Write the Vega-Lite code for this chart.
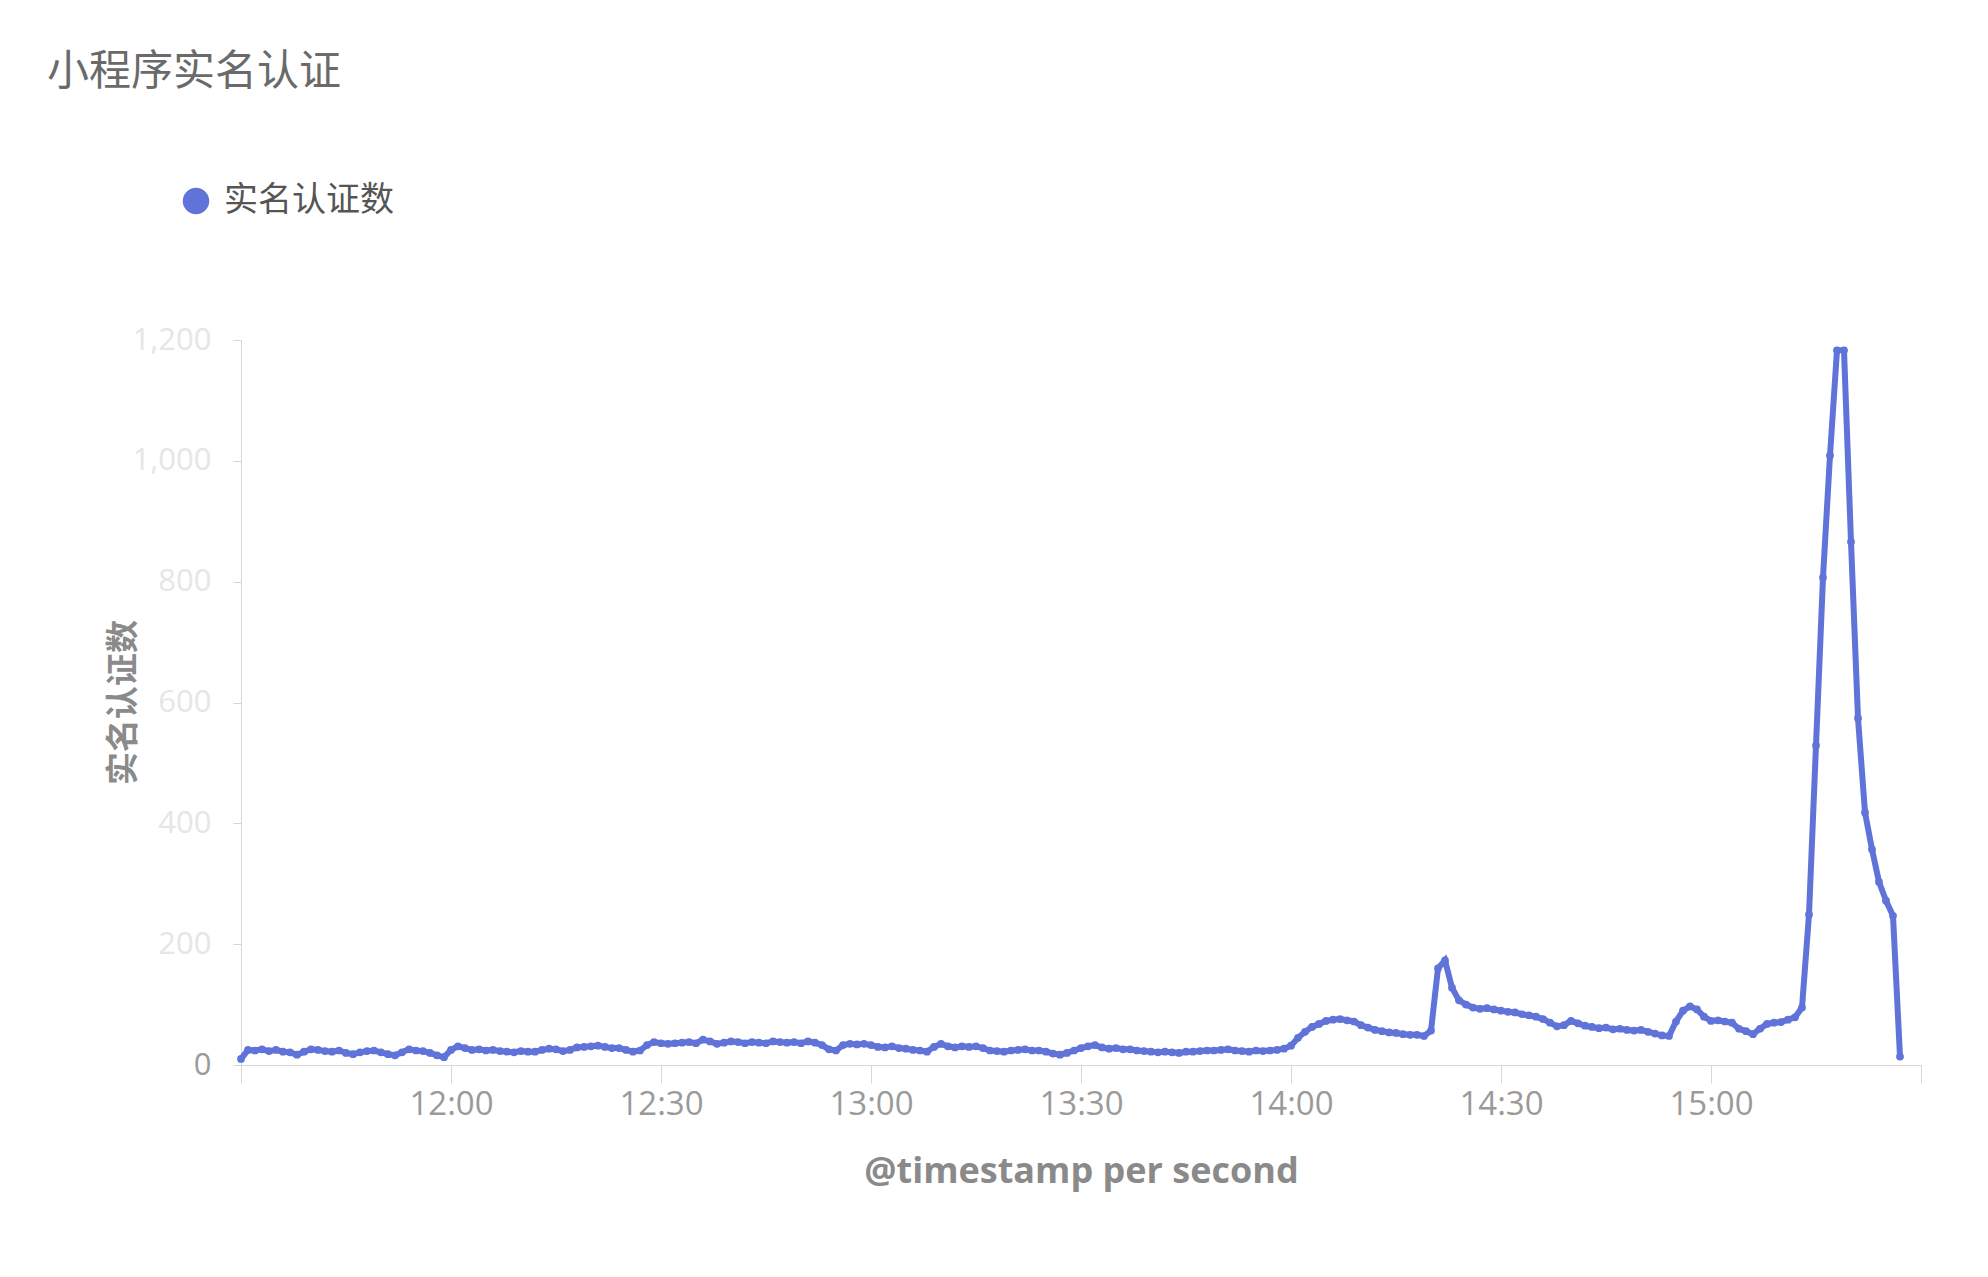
{
  "$schema": "https://vega.github.io/schema/vega-lite/v6.json",
  "width": 1680,
  "height": 725,
  "autosize": {"type": "none"},
  "padding": {"left": 241, "top": 340, "right": 67, "bottom": 212},
  "background": "white",
  "title": {
    "text": "小程序实名认证",
    "anchor": "start",
    "frame": "group",
    "dx": -194,
    "offset": 90,
    "fontSize": 42,
    "fontWeight": "normal",
    "color": "#6a6a6a",
    "font": "Noto Sans CJK SC"
  },
  "data": {
    "format": {"parse": {"t": "date:'%H:%M'"}},
    "values": [
      {"t":"11:30","v":10},{"t":"11:31","v":25},{"t":"11:32","v":24},{"t":"11:33","v":26},{"t":"11:34","v":23},{"t":"11:35","v":25},{"t":"11:36","v":22},{"t":"11:37","v":21},{"t":"11:38","v":17},{"t":"11:39","v":22},
      {"t":"11:40","v":26},{"t":"11:41","v":25},{"t":"11:42","v":23},{"t":"11:43","v":22},{"t":"11:44","v":24},{"t":"11:45","v":20},{"t":"11:46","v":18},{"t":"11:47","v":21},{"t":"11:48","v":23},{"t":"11:49","v":24},
      {"t":"11:50","v":21},{"t":"11:51","v":18},{"t":"11:52","v":16},{"t":"11:53","v":21},{"t":"11:54","v":26},{"t":"11:55","v":24},{"t":"11:56","v":23},{"t":"11:57","v":20},{"t":"11:58","v":16},{"t":"11:59","v":13},
      {"t":"12:00","v":25},{"t":"12:01","v":31},{"t":"12:02","v":28},{"t":"12:03","v":25},{"t":"12:04","v":26},{"t":"12:05","v":24},{"t":"12:06","v":25},{"t":"12:07","v":23},{"t":"12:08","v":22},{"t":"12:09","v":21},
      {"t":"12:10","v":23},{"t":"12:11","v":22},{"t":"12:12","v":22},{"t":"12:13","v":25},{"t":"12:14","v":27},{"t":"12:15","v":26},{"t":"12:16","v":23},{"t":"12:17","v":25},{"t":"12:18","v":29},{"t":"12:19","v":30},
      {"t":"12:20","v":31},{"t":"12:21","v":32},{"t":"12:22","v":30},{"t":"12:23","v":28},{"t":"12:24","v":28},{"t":"12:25","v":25},{"t":"12:26","v":22},{"t":"12:27","v":24},{"t":"12:28","v":33},{"t":"12:29","v":38},
      {"t":"12:30","v":36},{"t":"12:31","v":35},{"t":"12:32","v":36},{"t":"12:33","v":37},{"t":"12:34","v":38},{"t":"12:35","v":36},{"t":"12:36","v":42},{"t":"12:37","v":39},{"t":"12:38","v":35},{"t":"12:39","v":37},
      {"t":"12:40","v":39},{"t":"12:41","v":38},{"t":"12:42","v":36},{"t":"12:43","v":38},{"t":"12:44","v":37},{"t":"12:45","v":36},{"t":"12:46","v":39},{"t":"12:47","v":38},{"t":"12:48","v":37},{"t":"12:49","v":38},
      {"t":"12:50","v":36},{"t":"12:51","v":39},{"t":"12:52","v":37},{"t":"12:53","v":33},{"t":"12:54","v":26},{"t":"12:55","v":24},{"t":"12:56","v":33},{"t":"12:57","v":35},{"t":"12:58","v":34},{"t":"12:59","v":35},
      {"t":"13:00","v":33},{"t":"13:01","v":30},{"t":"13:02","v":29},{"t":"13:03","v":31},{"t":"13:04","v":28},{"t":"13:05","v":27},{"t":"13:06","v":25},{"t":"13:07","v":24},{"t":"13:08","v":22},{"t":"13:09","v":30},
      {"t":"13:10","v":35},{"t":"13:11","v":31},{"t":"13:12","v":29},{"t":"13:13","v":31},{"t":"13:14","v":30},{"t":"13:15","v":31},{"t":"13:16","v":28},{"t":"13:17","v":24},{"t":"13:18","v":23},{"t":"13:19","v":22},
      {"t":"13:20","v":24},{"t":"13:21","v":25},{"t":"13:22","v":26},{"t":"13:23","v":24},{"t":"13:24","v":24},{"t":"13:25","v":22},{"t":"13:26","v":19},{"t":"13:27","v":17},{"t":"13:28","v":20},{"t":"13:29","v":24},
      {"t":"13:30","v":28},{"t":"13:31","v":31},{"t":"13:32","v":33},{"t":"13:33","v":29},{"t":"13:34","v":27},{"t":"13:35","v":28},{"t":"13:36","v":26},{"t":"13:37","v":26},{"t":"13:38","v":24},{"t":"13:39","v":23},
      {"t":"13:40","v":22},{"t":"13:41","v":21},{"t":"13:42","v":22},{"t":"13:43","v":21},{"t":"13:44","v":20},{"t":"13:45","v":22},{"t":"13:46","v":22},{"t":"13:47","v":23},{"t":"13:48","v":24},{"t":"13:49","v":24},
      {"t":"13:50","v":25},{"t":"13:51","v":26},{"t":"13:52","v":24},{"t":"13:53","v":23},{"t":"13:54","v":22},{"t":"13:55","v":24},{"t":"13:56","v":23},{"t":"13:57","v":24},{"t":"13:58","v":25},{"t":"13:59","v":27},
      {"t":"14:00","v":32},{"t":"14:01","v":45},{"t":"14:02","v":55},{"t":"14:03","v":63},{"t":"14:04","v":68},{"t":"14:05","v":73},{"t":"14:06","v":75},{"t":"14:07","v":76},{"t":"14:08","v":74},{"t":"14:09","v":72},
      {"t":"14:10","v":66},{"t":"14:11","v":62},{"t":"14:12","v":58},{"t":"14:13","v":56},{"t":"14:14","v":54},{"t":"14:15","v":53},{"t":"14:16","v":51},{"t":"14:17","v":50},{"t":"14:18","v":50},{"t":"14:19","v":48},
      {"t":"14:20","v":57},{"t":"14:21","v":160},{"t":"14:22","v":173},{"t":"14:23","v":128},{"t":"14:24","v":107},{"t":"14:25","v":100},{"t":"14:26","v":95},{"t":"14:27","v":93},{"t":"14:28","v":94},{"t":"14:29","v":92},
      {"t":"14:30","v":90},{"t":"14:31","v":88},{"t":"14:32","v":87},{"t":"14:33","v":84},{"t":"14:34","v":82},{"t":"14:35","v":80},{"t":"14:36","v":76},{"t":"14:37","v":70},{"t":"14:38","v":64},{"t":"14:39","v":66},
      {"t":"14:40","v":73},{"t":"14:41","v":69},{"t":"14:42","v":65},{"t":"14:43","v":63},{"t":"14:44","v":61},{"t":"14:45","v":62},{"t":"14:46","v":59},{"t":"14:47","v":60},{"t":"14:48","v":58},{"t":"14:49","v":57},
      {"t":"14:50","v":58},{"t":"14:51","v":55},{"t":"14:52","v":52},{"t":"14:53","v":49},{"t":"14:54","v":48},{"t":"14:55","v":72},{"t":"14:56","v":90},{"t":"14:57","v":97},{"t":"14:58","v":92},{"t":"14:59","v":80},
      {"t":"15:00","v":73},{"t":"15:01","v":74},{"t":"15:02","v":72},{"t":"15:03","v":70},{"t":"15:04","v":60},{"t":"15:05","v":56},{"t":"15:06","v":51},{"t":"15:07","v":60},{"t":"15:08","v":68},{"t":"15:09","v":70},
      {"t":"15:10","v":71},{"t":"15:11","v":75},{"t":"15:12","v":79},{"t":"15:13","v":95},{"t":"15:14","v":249},{"t":"15:15","v":529},{"t":"15:16","v":807},{"t":"15:17","v":1009},{"t":"15:18","v":1183},{"t":"15:19","v":1183},
      {"t":"15:20","v":866},{"t":"15:21","v":574},{"t":"15:22","v":418},{"t":"15:23","v":357},{"t":"15:24","v":303},{"t":"15:25","v":272},{"t":"15:26","v":247},{"t":"15:27","v":14}
    ]
  },
  "encoding": {
    "x": {
      "field": "t",
      "type": "temporal",
      "scale": {
        "domain": [
          {"year": 1900, "month": 1, "date": 1, "hours": 11, "minutes": 30},
          {"year": 1900, "month": 1, "date": 1, "hours": 15, "minutes": 30}
        ]
      },
      "axis": {
        "title": "@timestamp per second",
        "values": [
          {"year": 1900, "month": 1, "date": 1, "hours": 11, "minutes": 30},
          {"year": 1900, "month": 1, "date": 1, "hours": 12, "minutes": 0},
          {"year": 1900, "month": 1, "date": 1, "hours": 12, "minutes": 30},
          {"year": 1900, "month": 1, "date": 1, "hours": 13, "minutes": 0},
          {"year": 1900, "month": 1, "date": 1, "hours": 13, "minutes": 30},
          {"year": 1900, "month": 1, "date": 1, "hours": 14, "minutes": 0},
          {"year": 1900, "month": 1, "date": 1, "hours": 14, "minutes": 30},
          {"year": 1900, "month": 1, "date": 1, "hours": 15, "minutes": 0},
          {"year": 1900, "month": 1, "date": 1, "hours": 15, "minutes": 30}
        ],
        "format": "%H:%M",
        "labelExpr": "datum.index == 0 || datum.index == 1 ? '' : datum.label",
        "grid": false,
        "tickSize": 18,
        "labelPadding": 5,
        "labelFontSize": 33,
        "labelColor": "#9a9a9a",
        "labelFlush": false,
        "labelOverlap": false,
        "domainColor": "#d6d6d6",
        "tickColor": "#d6d6d6",
        "titleFontSize": 36,
        "titleFontWeight": "bold",
        "titleColor": "#8a8a8a",
        "titleBaseline": "middle",
        "titleX": 840,
        "titleY": 106
      }
    },
    "y": {
      "field": "v",
      "type": "quantitative",
      "scale": {"domain": [0, 1200], "nice": false},
      "axis": {
        "title": "实名认证数",
        "values": [0, 200, 400, 600, 800, 1000, 1200],
        "grid": false,
        "tickSize": 8,
        "labelPadding": 22,
        "labelFontSize": 31,
        "labelColor": {"expr": "datum.value == 0 ? '#9a9a9a' : '#e6e6e6'"},
        "domainColor": "#d6d6d6",
        "tickColor": "#d6d6d6",
        "titleFontSize": 33,
        "titleFontWeight": "bold",
        "titleColor": "#8a8a8a",
        "titleFont": "Noto Sans CJK SC",
        "titleBaseline": "middle",
        "titleAngle": -90,
        "titleX": -118,
        "titleY": 362
      }
    }
  },
  "layer": [
    {
      "mark": {"type": "line", "color": "#6073d8", "strokeWidth": 6, "interpolate": "linear"}
    },
    {
      "mark": {"type": "point", "filled": true, "size": 60, "opacity": 1},
      "encoding": {
        "color": {
          "datum": "实名认证数",
          "scale": {"range": ["#6073d8"]},
          "legend": {
            "title": null,
            "orient": "none",
            "legendX": -62,
            "legendY": -156,
            "padding": 0,
            "symbolType": "circle",
            "symbolSize": 700,
            "symbolStrokeWidth": 0,
            "labelFontSize": 34,
            "labelLimit": 0,
            "labelColor": "#555555",
            "labelFont": "Noto Sans CJK SC",
            "labelOffset": 11
          }
        }
      }
    }
  ],
  "config": {
    "view": {"stroke": null},
    "font": "Open Sans, Noto Sans CJK SC",
    "axis": {"labelFont": "Open Sans", "titleFont": "Open Sans"}
  }
}
